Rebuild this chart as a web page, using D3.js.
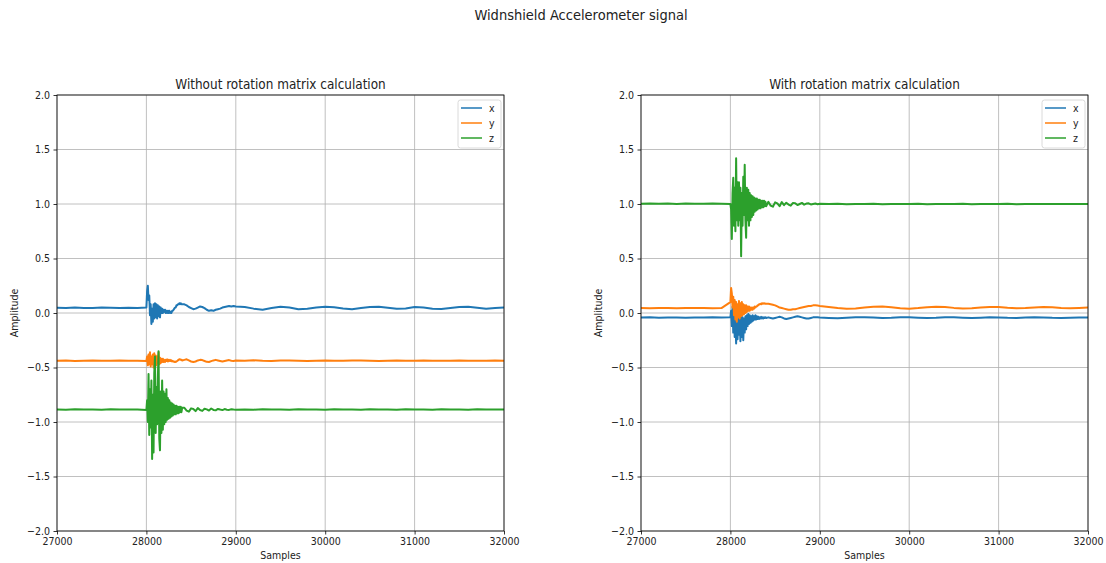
<!DOCTYPE html>
<html>
<head>
<meta charset="utf-8">
<script src="https://cdn.jsdelivr.net/npm/d3@7"></script>
<style>
  html, body { margin: 0; padding: 0; background: #fff; }
  svg { display: block; }
  text { font-family: "DejaVu Sans Condensed", "DejaVu Sans", sans-serif; font-stretch: condensed; fill: #222; }
</style>
</head>
<body>
<svg id="chart" width="1106" height="563"></svg>
<script>
// ---- sample index grid: sparse before the impact, dense through it, medium while it decays, sparse after ----
const samplesPre   = d3.range(27000, 28000, 100);      // 10 samples
const samplesBurst = d3.range(28000, 28401, 8);        // 51 samples
const samplesDecay = d3.range(28425, 29001, 25);       // 24 samples
const samplesTail  = d3.range(29100, 32001, 100);      // 30 samples
const samples = [...samplesPre, ...samplesBurst, ...samplesDecay, ...samplesTail];

const xTicks = [27000, 28000, 29000, 30000, 31000, 32000];
const yTicks = [-2.0, -1.5, -1.0, -0.5, 0.0, 0.5, 1.0, 1.5, 2.0];
const seriesNames = ["x", "y", "z"];
const seriesColors = ["#1f77b4", "#ff7f0e", "#2ca02c"];

// ---- without rotation matrix ----
const rawX = [
  0.048, 0.045, 0.05, 0.047, 0.046, 0.05, 0.048, 0.045, 0.049, 0.047,
  0.05, 0.20, 0.25, 0.12, 0.16, -0.02, 0.08, -0.10, 0.04, -0.08,
  0.08, -0.05, 0.09, -0.04, 0.08, -0.05, 0.07, -0.03, 0.06, -0.04,
  0.05, 0.00, 0.04, 0.00, 0.03, 0.01, 0.03, 0.00, 0.02, 0.00,
  0.02, 0.00, 0.02, 0.00, 0.01, 0.00, 0.02, 0.02, 0.03, 0.04,
  0.05, 0.05, 0.07, 0.07, 0.08, 0.08, 0.09, 0.08, 0.09, 0.08, 0.08,
  0.08, 0.07, 0.055, 0.045, 0.035, 0.04, 0.05, 0.06, 0.055, 0.045, 0.03, 0.02,
  0.025, 0.02, 0.03, 0.035, 0.04, 0.05, 0.055, 0.06, 0.065, 0.06, 0.065, 0.06,
  0.055, 0.04, 0.03, 0.045, 0.058, 0.05, 0.035, 0.04, 0.05, 0.058,
  0.052, 0.042, 0.035, 0.045, 0.055, 0.058, 0.048, 0.038, 0.042, 0.055,
  0.05, 0.04, 0.036, 0.045, 0.055, 0.057, 0.048, 0.04, 0.045, 0.05
];
const rawY = [
  -0.438, -0.436, -0.44, -0.437, -0.435, -0.439, -0.437, -0.436, -0.438, -0.437,
  -0.44, -0.40, -0.48, -0.38, -0.47, -0.36, -0.49, -0.40, -0.47, -0.38,
  -0.50, -0.37, -0.46, -0.39, -0.48, -0.40, -0.46, -0.36, -0.47, -0.41,
  -0.46, -0.42, -0.45, -0.42, -0.45, -0.43, -0.45, -0.43, -0.44, -0.425,
  -0.445, -0.43, -0.44, -0.43, -0.44, -0.435, -0.445, -0.44, -0.445, -0.45,
  -0.445, -0.45, -0.445, -0.44, -0.435, -0.43, -0.425, -0.425, -0.43, -0.43, -0.435,
  -0.43, -0.425, -0.435, -0.445, -0.45, -0.445, -0.435, -0.43, -0.432, -0.44, -0.448, -0.45,
  -0.442, -0.435, -0.43, -0.435, -0.44, -0.445, -0.44, -0.435, -0.432, -0.438, -0.44, -0.436,
  -0.437, -0.434, -0.438, -0.44, -0.436, -0.435, -0.438, -0.44, -0.437, -0.436,
  -0.438, -0.439, -0.436, -0.435, -0.437, -0.44, -0.438, -0.436, -0.437, -0.438,
  -0.436, -0.437, -0.439, -0.438, -0.436, -0.437, -0.438, -0.437, -0.436, -0.437
];
const rawZ = [
  -0.885, -0.887, -0.884, -0.886, -0.885, -0.887, -0.884, -0.886, -0.885, -0.886,
  -0.89, -0.80, -1.00, -0.56, -1.12, -0.70, -1.05, -0.62, -1.34, -0.75,
  -1.28, -0.55, -0.40, -1.10, -0.68, -1.02, -0.60, -0.35, -1.15, -1.26,
  -0.72, -1.10, -0.62, -1.07, -0.72, -1.02, -0.74, -1.00, -0.70, -0.98,
  -0.78, -0.97, -0.80, -0.96, -0.82, -0.95, -0.83, -0.94, -0.84, -0.93,
  -0.85, -0.93, -0.85, -0.92, -0.86, -0.92, -0.86, -0.91, -0.86, -0.91, -0.87,
  -0.87, -0.895, -0.905, -0.875, -0.88, -0.90, -0.872, -0.89, -0.898, -0.878, -0.884, -0.895,
  -0.876, -0.889, -0.893, -0.88, -0.886, -0.891, -0.881, -0.887, -0.889, -0.883, -0.886, -0.887,
  -0.885, -0.887, -0.884, -0.886, -0.885, -0.888, -0.884, -0.886, -0.885, -0.887,
  -0.883, -0.886, -0.885, -0.887, -0.884, -0.886, -0.885, -0.888, -0.884, -0.886,
  -0.885, -0.887, -0.884, -0.886, -0.885, -0.887, -0.884, -0.886, -0.885, -0.886
];

// ---- with rotation matrix ----
const rotX = [
  -0.042, -0.04, -0.043, -0.041, -0.042, -0.044, -0.041, -0.042, -0.04, -0.042,
  -0.04, 0.02, -0.12, 0.06, -0.18, 0.03, -0.22, -0.05, -0.28, -0.02,
  -0.24, 0.00, -0.20, -0.03, -0.26, -0.02, -0.22, -0.04, -0.25, -0.05,
  -0.18, -0.03, -0.15, -0.02, -0.12, -0.01, -0.10, -0.02, -0.09, -0.03,
  -0.08, -0.02, -0.07, -0.03, -0.06, -0.02, -0.06, -0.03, -0.055, -0.035,
  -0.055, -0.04, -0.05, -0.035, -0.05, -0.04, -0.05, -0.04, -0.045, -0.04, -0.045,
  -0.04, -0.045, -0.05, -0.045, -0.04, -0.035, -0.04, -0.05, -0.055, -0.05, -0.045, -0.04,
  -0.035, -0.03, -0.035, -0.04, -0.045, -0.05, -0.05, -0.045, -0.04, -0.038, -0.04, -0.042,
  -0.045, -0.048, -0.044, -0.04, -0.038, -0.042, -0.046, -0.044, -0.04, -0.039,
  -0.043, -0.046, -0.044, -0.04, -0.04, -0.043, -0.045, -0.043, -0.04, -0.041,
  -0.044, -0.045, -0.042, -0.04, -0.041, -0.044, -0.045, -0.043, -0.041, -0.042
];
const rotY = [
  0.046, 0.044, 0.047, 0.045, 0.043, 0.046, 0.045, 0.047, 0.044, 0.045,
  0.10, 0.23, 0.18, 0.05, 0.15, -0.02, 0.12, -0.06, 0.10, -0.08,
  0.08, -0.04, 0.11, -0.05, 0.09, -0.03, 0.10, -0.02, 0.08, -0.01,
  0.07, 0.00, 0.07, 0.01, 0.06, 0.02, 0.06, 0.02, 0.05, 0.03,
  0.05, 0.03, 0.05, 0.04, 0.06, 0.05, 0.06, 0.06, 0.07, 0.07,
  0.08, 0.08, 0.085, 0.08, 0.09, 0.085, 0.09, 0.085, 0.09, 0.085, 0.085,
  0.085, 0.08, 0.075, 0.07, 0.06, 0.05, 0.045, 0.04, 0.035, 0.03, 0.03, 0.035,
  0.035, 0.04, 0.045, 0.05, 0.055, 0.06, 0.065, 0.065, 0.07, 0.07, 0.068, 0.065,
  0.055, 0.045, 0.04, 0.042, 0.05, 0.058, 0.06, 0.052, 0.044, 0.04,
  0.045, 0.053, 0.058, 0.055, 0.047, 0.042, 0.044, 0.05, 0.056, 0.055,
  0.048, 0.043, 0.045, 0.051, 0.055, 0.052, 0.047, 0.044, 0.047, 0.05
];
const rotZ = [
  1.003, 1.005, 1.002, 1.004, 1.001, 1.004, 1.003, 1.002, 1.005, 1.003,
  1.00, 0.95, 0.68, 1.10, 1.24, 0.80, 1.15, 0.75, 1.42, 0.85,
  1.20, 0.80, 1.20, 0.85, 1.15, 0.52, 1.10, 0.80, 1.25, 0.90,
  1.36, 0.85, 0.69, 1.15, 0.85, 1.13, 0.80, 1.10, 0.85, 1.08,
  0.88, 1.07, 0.90, 1.06, 0.93, 1.05, 0.94, 1.05, 0.95, 1.04,
  0.96, 1.04, 0.96, 1.03, 0.97, 1.03, 0.97, 1.03, 0.98, 1.02, 0.98,
  1.02, 0.985, 0.975, 1.015, 1.005, 0.98, 1.018, 0.99, 1.012, 0.995, 0.985, 1.01,
  1.008, 0.99, 1.0, 1.01, 0.994, 1.004, 1.006, 0.996, 1.0, 1.004, 0.998, 1.002,
  1.0, 1.002, 0.998, 1.001, 0.999, 1.002, 0.998, 1.0, 1.001, 0.999,
  1.002, 0.998, 1.0, 1.001, 0.999, 1.002, 0.998, 1.0, 1.001, 0.999,
  1.002, 0.998, 1.0, 1.001, 0.999, 1.001, 0.999, 1.0, 1.001, 0.999
];

const panels = [
  { left: 57,  title: "Without rotation matrix calculation", series: [rawX, rawY, rawZ] },
  { left: 641, title: "With rotation matrix calculation",    series: [rotX, rotY, rotZ] }
];

const svg = d3.select("#chart");
const plotW = 447, plotTop = 95, plotH = 436;

svg.append("text")
  .attr("x", 581).attr("y", 20)
  .attr("text-anchor", "middle")
  .style("font-size", "14.5px")
  .text("Widnshield Accelerometer signal");

panels.forEach((p, pi) => {
  const x = d3.scaleLinear().domain([27000, 32000]).range([p.left, p.left + plotW]);
  const y = d3.scaleLinear().domain([-2, 2]).range([plotTop + plotH, plotTop]);
  const g = svg.append("g");

  // grid
  g.append("g").selectAll("line").data(xTicks).join("line")
    .attr("x1", d => x(d)).attr("x2", d => x(d))
    .attr("y1", plotTop).attr("y2", plotTop + plotH)
    .attr("stroke", "#b0b0b0").attr("stroke-width", 0.8);
  g.append("g").selectAll("line").data(yTicks).join("line")
    .attr("x1", p.left).attr("x2", p.left + plotW)
    .attr("y1", d => y(d)).attr("y2", d => y(d))
    .attr("stroke", "#b0b0b0").attr("stroke-width", 0.8);

  // signal lines
  const clipId = "clip" + pi;
  svg.append("clipPath").attr("id", clipId).append("rect")
    .attr("x", p.left).attr("y", plotTop).attr("width", plotW).attr("height", plotH);
  const line = d3.line().x((d, i) => x(samples[i])).y(d => y(d));
  p.series.forEach((vals, si) => {
    g.append("path")
      .attr("clip-path", `url(#${clipId})`)
      .attr("d", line(vals))
      .attr("fill", "none")
      .attr("stroke", seriesColors[si])
      .attr("stroke-width", 2)
      .attr("stroke-linejoin", "round");
  });

  // frame
  g.append("rect")
    .attr("x", p.left).attr("y", plotTop).attr("width", plotW).attr("height", plotH)
    .attr("fill", "none").attr("stroke", "#000").attr("stroke-width", 0.8);

  // axes
  const xa = g.append("g").attr("transform", `translate(0,${plotTop + plotH})`)
    .call(d3.axisBottom(x).tickValues(xTicks).tickFormat(d3.format("d")).tickSize(3.5).tickPadding(3.5));
  const ya = g.append("g").attr("transform", `translate(${p.left},0)`)
    .call(d3.axisLeft(y).tickValues(yTicks).tickFormat(d3.format(".1f")).tickSize(3.5).tickPadding(3.5));
  [xa, ya].forEach(a => {
    a.select(".domain").remove();
    a.selectAll(".tick line").attr("stroke", "#000").attr("stroke-width", 0.8);
    a.selectAll(".tick text").style("font-size", "10.5px").style("font-family", null).attr("fill", "#222");
  });

  // titles and labels
  g.append("text").attr("x", p.left + plotW / 2).attr("y", 89)
    .attr("text-anchor", "middle").style("font-size", "13.4px").text(p.title);
  g.append("text").attr("x", p.left + plotW / 2).attr("y", 559)
    .attr("text-anchor", "middle").style("font-size", "10.5px").text("Samples");
  g.append("text")
    .attr("transform", `translate(${p.left - 39},${plotTop + plotH / 2}) rotate(-90)`)
    .attr("text-anchor", "middle").style("font-size", "10.5px").text("Amplitude");

  // legend
  const lx = p.left + plotW - 46, ly = plotTop + 5;
  const lg = g.append("g").attr("transform", `translate(${lx},${ly})`);
  lg.append("rect").attr("width", 43).attr("height", 48).attr("rx", 2.5)
    .attr("fill", "#fff").attr("fill-opacity", 0.8)
    .attr("stroke", "#d0d0d0").attr("stroke-width", 0.8);
  seriesNames.forEach((n, si) => {
    const ry = 8 + si * 15;
    lg.append("line").attr("x1", 3).attr("x2", 24).attr("y1", ry).attr("y2", ry)
      .attr("stroke", seriesColors[si]).attr("stroke-width", 1.5);
    lg.append("text").attr("x", 31).attr("y", ry + 3.5)
      .style("font-size", "10.5px").text(n);
  });
});
</script>
</body>
</html>
